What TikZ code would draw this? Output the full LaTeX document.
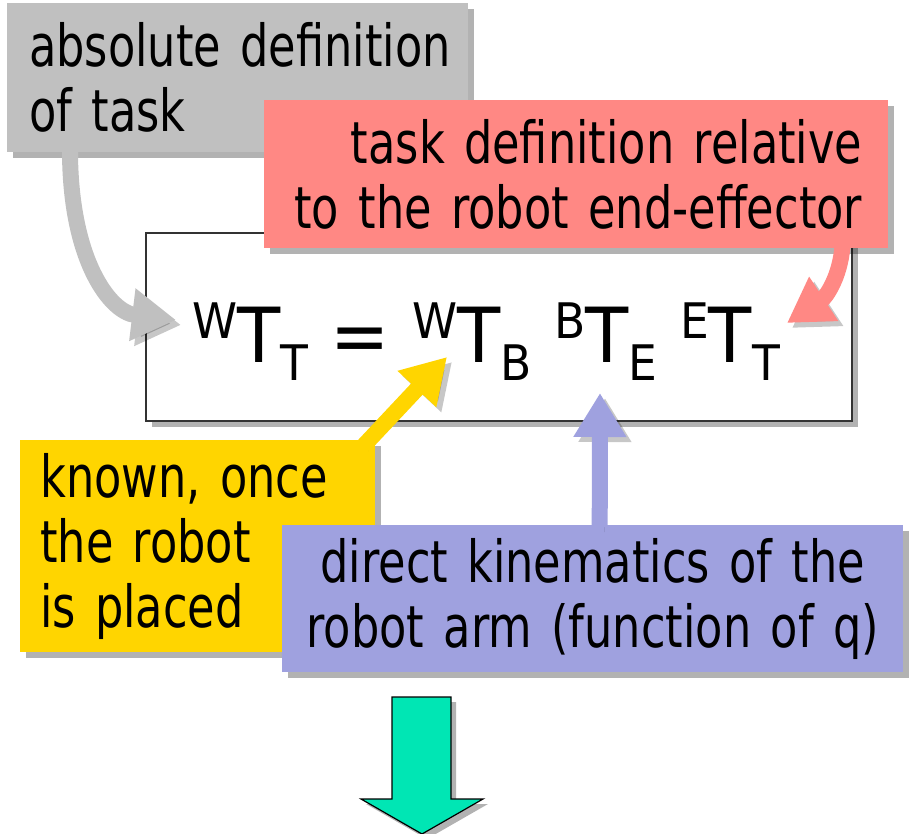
\documentclass[tikz,border=0pt]{standalone}
\usepackage{fontspec}
\setmainfont{DejaVu Sans}[FakeStretch=0.77]
\newfontfamily\eqfont{DejaVu Sans}[FakeStretch=0.93]
\usetikzlibrary{arrows.meta,shadows}
\hyphenpenalty=10000
\exhyphenpenalty=10000

\definecolor{absgray}{HTML}{C0C0C0}
\definecolor{relred}{HTML}{FF8884}
\definecolor{knownyellow}{HTML}{FFD500}
\definecolor{kinblue}{HTML}{9FA1DF}
\definecolor{nextteal}{HTML}{00E6B4}

% one transform: ^{sup}T_{sub}
\newcommand{\tmat}[2]{\raisebox{24pt}{\fontsize{49}{49}\selectfont #1}T\raisebox{-18pt}{\fontsize{49}{49}\selectfont #2}}

\tikzset{
  note/.style={anchor=north west, inner ysep=0pt, font=\fontsize{58}{65}\selectfont,
    drop shadow={shadow xshift=6pt, shadow yshift=-6pt, opacity=0.3, fill=black}},
  bigarrow/.style={line width=16pt, -{Triangle[length=44pt,width=50pt]},
    preaction={draw=black, opacity=0.22, transform canvas={shift={(5pt,-5pt)}}}},
}

\begin{document}
\begin{tikzpicture}[x=1pt,y=-1pt]
\useasboundingbox (0,0) rectangle (910,834);
% the equation in its frame
\draw[draw=black!80, line width=1.5pt, fill=white,
  drop shadow={shadow xshift=6pt, shadow yshift=-6pt, opacity=0.3, fill=black}]
  (146,233) rectangle (852,421);
\node[anchor=base west, inner sep=0pt, font=\eqfont\fontsize{76}{76}\selectfont] (eq) at (192,362)
  {\tmat{W}{T} = \tmat{W}{B} \tmat{B}{E} \tmat{E}{T}};
% tips of the connectors
\coordinate (ttip) at (176,320);
\coordinate (wbtip) at (447,357);
\coordinate (betip) at (600,393);
\coordinate (ettip) at (787,323);
% absolute definition
\node[note, fill=absgray, align=left, text width=417, inner xsep=22, minimum height=149] (absdef) at (7,3)
  {absolute~definition\\of~task};
\draw[bigarrow, absgray] ([xshift=63pt, yshift=2pt]absdef.south west)
  .. controls (70,260) and (110,312) .. (ttip);
% relative to the end-effector
\node[note, fill=relred, align=right, text width=572, inner xsep=26, minimum height=148] (taskrel) at (264,100)
  {task~definition~relative\\to~the~robot~end-effector};
\draw[bigarrow, relred] ([xshift=-46pt, yshift=2pt]taskrel.south east)
  .. controls (840,278) and (825,298) .. (ettip);
% robot placement
\node[note, fill=knownyellow, align=left, text width=315, inner xsep=20, minimum height=212] (known) at (20,440)
  {known,~once\\the~robot\\is~placed};
\draw[bigarrow, knownyellow] ([xshift=-12pt, yshift=-6pt]known.north east) -- (wbtip);
% direct kinematics
\node[note, fill=kinblue, align=center, text width=591, inner xsep=15, minimum height=147] (kin) at (282,525)
  {direct~kinematics~of~the\\robot~arm~(function~of~q)};
\draw[bigarrow, kinblue] ([xshift=7pt, yshift=-2pt]kin.north) -- (betip);
% next step
\draw[fill=nextteal, draw=black, line width=1.2pt,
  drop shadow={shadow xshift=5pt, shadow yshift=-5pt, opacity=0.3, fill=black}]
  (392,697) -- (451,697) -- (451,799) -- (483,799) -- (422,834) -- (361,799) -- (392,799) -- cycle;
\end{tikzpicture}
\end{document}
